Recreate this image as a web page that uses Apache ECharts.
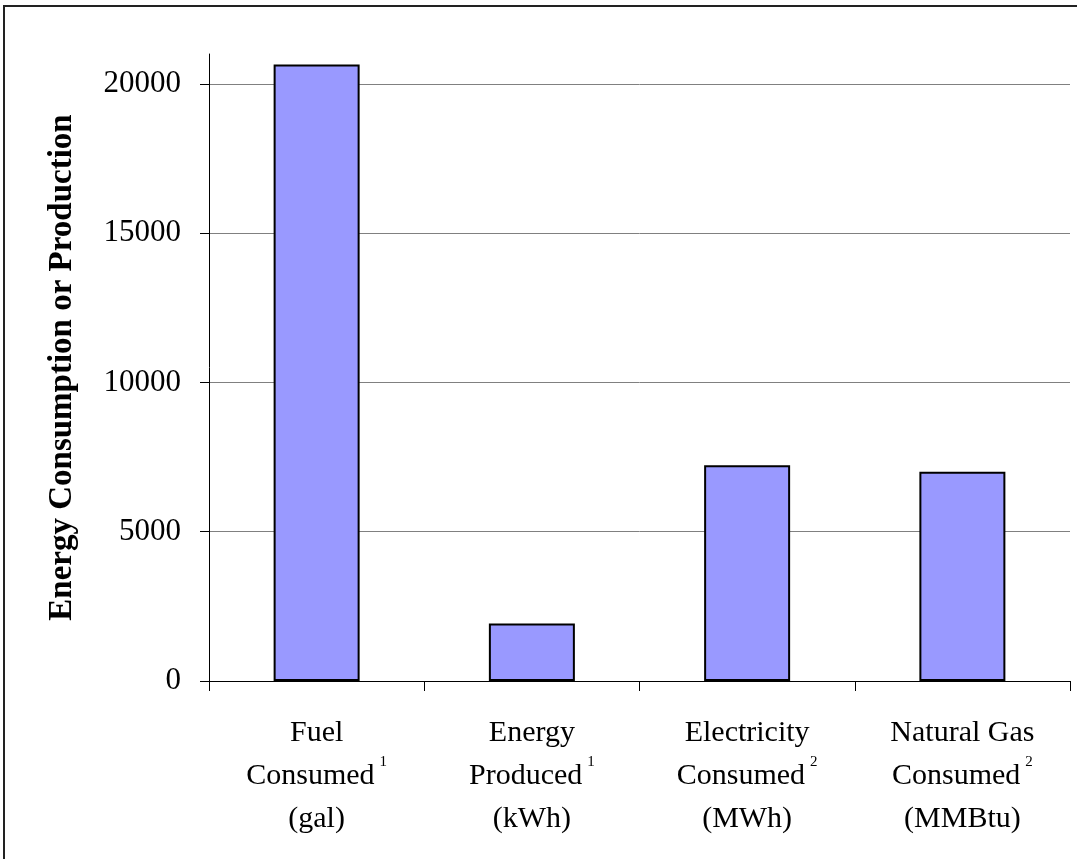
<!DOCTYPE html>
<html>
<head>
<meta charset="utf-8">
<title>Energy Consumption or Production</title>
<script src="https://cdn.jsdelivr.net/npm/echarts@6/dist/echarts.min.js"></script>
<style>
  html, body { margin: 0; padding: 0; background: #fff; }
  #chart { width: 1077px; height: 859px; }
</style>
</head>
<body>
<div id="chart"></div>
<script>
// category label parts (three lines + footnote mark)
const categoryNames = ['Fuel', 'Energy', 'Electricity', 'Natural Gas'];
const categoryVerbs = ['Consumed', 'Produced', 'Consumed', 'Consumed'];
const categoryUnits = ['gal', 'kWh', 'MWh', 'MMBtu'];
const footnotes = ['1', '1', '2', '2'];

// bar values
const values = [20650, 1930, 7230, 7010];

// y axis
const yTicks = [0, 5000, 10000, 15000, 20000];
const yMax = 21000;

const SERIF = '"Liberation Serif", "DejaVu Serif", serif';

const chart = echarts.init(document.getElementById('chart'));

chart.setOption({
  backgroundColor: '#fff',
  animation: false,
  graphic: [{
    type: 'rect',
    shape: { x: 4, y: 6, width: 1200, height: 1000 },
    style: { fill: 'none', stroke: '#222', lineWidth: 2 },
    silent: true
  }],
  grid: { left: 209, right: 7, top: 54, bottom: 178 },
  xAxis: {
    type: 'category',
    data: categoryNames,
    axisLine: { lineStyle: { color: '#000', width: 1 } },
    axisTick: { show: true, length: 10, lineStyle: { color: '#000' } },
    axisLabel: {
      interval: 0,
      margin: 31,
      color: '#000',
      fontFamily: SERIF,
      fontSize: 30,
      lineHeight: 43,
      formatter: (name, i) =>
        name + '\n' + categoryVerbs[i] + '{sup|' + footnotes[i] + '}\n(' + categoryUnits[i] + ')',
      rich: {
        sup: {
          fontFamily: SERIF,
          fontSize: 15,
          color: '#000',
          verticalAlign: 'top',
          padding: [0, 0, 0, 5]
        }
      }
    }
  },
  yAxis: {
    type: 'value',
    min: 0,
    max: yMax,
    name: 'Energy Consumption or Production',
    nameLocation: 'middle',
    nameGap: 130,
    nameTextStyle: {
      fontFamily: SERIF,
      fontSize: 33,
      fontWeight: 'bold',
      color: '#000'
    },
    axisLine: { show: true, lineStyle: { color: '#000', width: 1 } },
    axisTick: { show: true, length: 9, customValues: yTicks, lineStyle: { color: '#000' } },
    axisLabel: {
      customValues: yTicks,
      margin: 28,
      color: '#000',
      fontFamily: SERIF,
      fontSize: 31,
      formatter: v => String(v)
    },
    splitLine: {
      show: true,
      showMinLine: false,
      lineStyle: { color: '#808080', width: 1 }
    }
  },
  series: [{
    type: 'bar',
    data: values,
    barWidth: 86,
    itemStyle: {
      color: '#9999FF',
      borderColor: '#000',
      borderWidth: 2
    }
  }]
});
</script>
</body>
</html>
